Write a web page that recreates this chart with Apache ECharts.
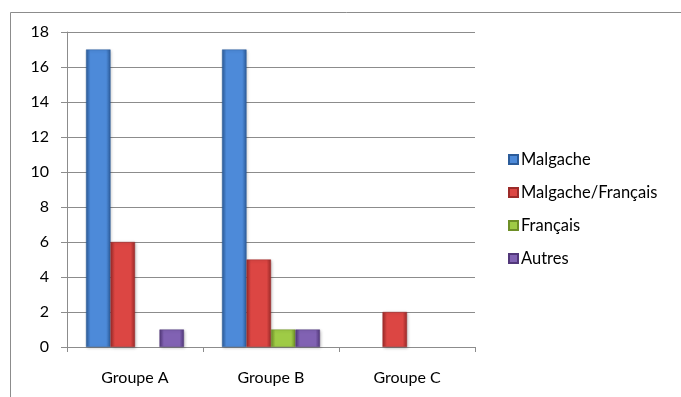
<!DOCTYPE html>
<html>
<head>
<meta charset="utf-8">
<script src="https://cdn.jsdelivr.net/npm/echarts@6/dist/echarts.min.js"></script>
<style>
  html, body { margin: 0; padding: 0; background: #fff; }
  #chart { width: 681px; height: 397px; }
</style>
</head>
<body>
<div id="chart"></div>
<script>
// Groups and counts per language
const categories = ['Groupe A', 'Groupe B', 'Groupe C'];
const seriesNames = ['Malgache', 'Malgache/Français', 'Français', 'Autres'];
const malgache = [17, 17, 0];
const malgacheFrancais = [6, 5, 2];
const francais = [0, 1, 0];
const autres = [1, 1, 0];
const yTicks = [0, 2, 4, 6, 8, 10, 12, 14, 16, 18];

// edge / centre shades for the bevelled bars
const palette = [
  { edge: '#2c5c9a', mid: '#4d8ad9' },
  { edge: '#9c2b29', mid: '#dc4643' },
  { edge: '#6e8f27', mid: '#9fcb46' },
  { edge: '#52387a', mid: '#8162b3' }
];

function barFill(p) {
  return new echarts.graphic.LinearGradient(0, 0, 1, 0, [
    { offset: 0, color: p.edge },
    { offset: 0.18, color: p.mid },
    { offset: 0.82, color: p.mid },
    { offset: 1, color: p.edge }
  ]);
}

const values = [malgache, malgacheFrancais, francais, autres];
const FONT = 'Lato, "Open Sans", sans-serif';

const chart = echarts.init(document.getElementById('chart'), null, { renderer: 'canvas' });

const option = {
  animation: false,
  backgroundColor: '#ffffff',
  textStyle: { fontFamily: FONT },
  graphic: [{
    type: 'rect',
    shape: { x: 10.5, y: 12.5, width: 700, height: 420 },
    style: { fill: 'none', stroke: '#8c8c8c', lineWidth: 1 },
    silent: true
  }],
  grid: { left: 67, top: 32, width: 408, height: 315 },
  legend: {
    orient: 'vertical',
    left: 503,
    top: 145,
    itemWidth: 9,
    itemHeight: 9,
    itemGap: 14,
    icon: 'rect',
    textStyle: { fontSize: 16.5, color: '#000', fontFamily: FONT, lineHeight: 19, padding: [0, 0, 0, -2] },
    data: seriesNames
  },
  xAxis: {
    type: 'category',
    data: categories,
    axisLine: { lineStyle: { color: '#8c8c8c' } },
    axisTick: { show: true, length: 5, lineStyle: { color: '#8c8c8c' } },
    axisLabel: { color: '#000', fontSize: 16, margin: 23 }
  },
  yAxis: {
    type: 'value',
    min: yTicks[0],
    max: yTicks[yTicks.length - 1],
    interval: 2,
    axisLine: { show: true, lineStyle: { color: '#8c8c8c' } },
    axisTick: { show: true, length: 6, lineStyle: { color: '#8c8c8c' } },
    axisLabel: { color: '#000', fontSize: 16, margin: 18 },
    splitLine: { lineStyle: { color: '#8c8c8c' } }
  },
  series: seriesNames.map((name, i) => ({
    name,
    type: 'bar',
    data: values[i].map(v => (v === 0 ? null : v)),
    barGap: '0%',
    barCategoryGap: '28%',
    itemStyle: {
      color: barFill(palette[i]),
      borderColor: palette[i].edge,
      borderWidth: 0.5,
      shadowColor: 'rgba(0,0,0,0.25)',
      shadowBlur: 3,
      shadowOffsetX: 1,
      shadowOffsetY: 1
    }
  }))
};

chart.setOption(option);
</script>
</body>
</html>
